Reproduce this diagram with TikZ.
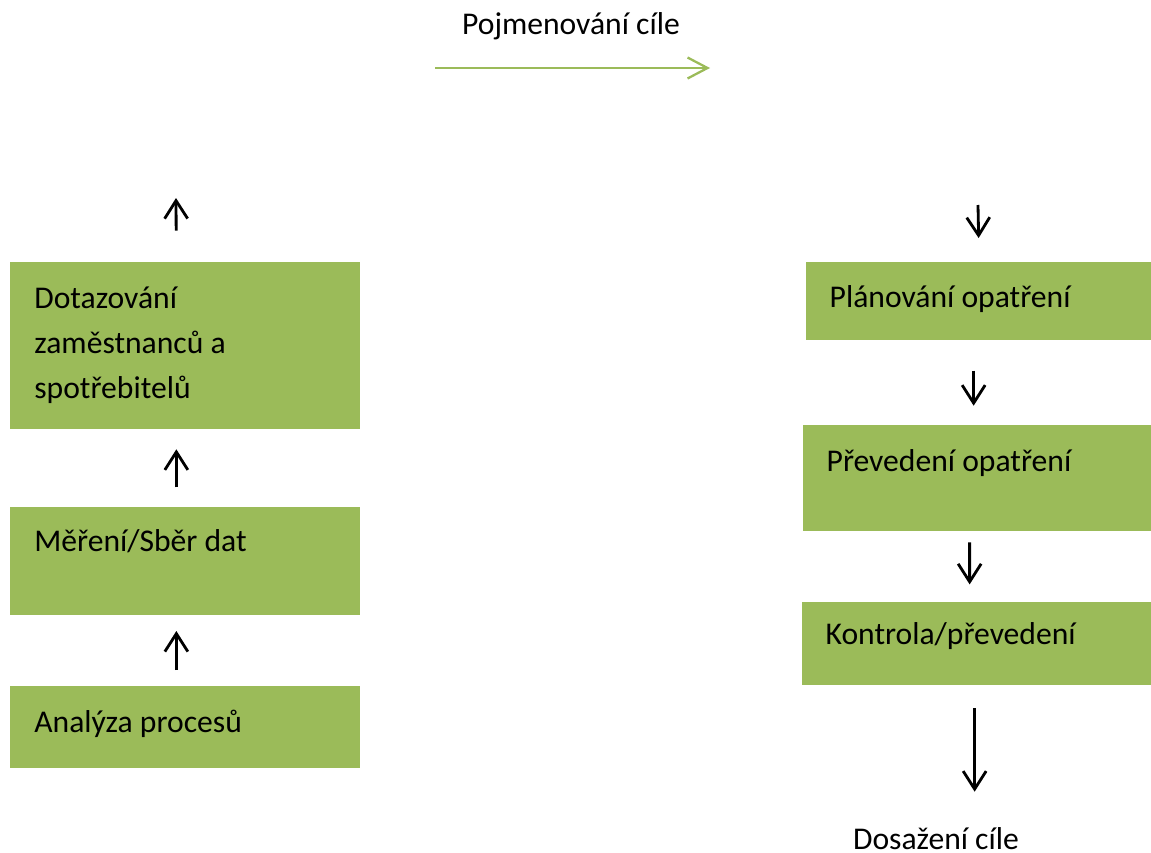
\documentclass[tikz,border=0pt]{standalone}
\usepackage{fontspec}
\setmainfont{Carlito}
\usepackage{tikz}
\usetikzlibrary{arrows.meta}
\definecolor{officegreen}{RGB}{155, 187, 89}
\usetikzlibrary{positioning}

\begin{document}
\begin{tikzpicture}
  [font=\fontsize{18}{25.6}\selectfont,
  stepbox/.style={rectangle, fill=officegreen, align=flush left, anchor=north west, inner xsep=.48cm, inner ysep=0, text height=.9cm},
  flow/.style={-{Straight Barb[length=3.6mm,width=4.6mm]}, line width=1.6pt, black},
  goal/.style={-{Straight Barb[length=4mm,width=4.2mm]}, line width=1.3pt, officegreen}]
  \useasboundingbox (0,0) rectangle (23.02,-17.06);

% Left column
\node (analyza) [stepbox, text width=6.04cm, text height=.92cm, text depth=.72cm] at (.2,-13.72) {Analýza procesů};
\node (mereni) [stepbox, above=1.42cm of analyza.north west, anchor=south west, text width=6.04cm, text depth=1.26cm] {Měření/Sběr dat};
\node (dotazovani) [stepbox, above=1.54cm of mereni.north west, anchor=south west, text width=6.04cm, text height=.94cm, text depth=2.4cm] {Dotazování\\zaměstnanců a\\spotřebitelů};
\coordinate (left-top) at (3.52,-3.96);
\draw[flow, shorten <=.32cm, shorten >=.32cm] ([xshift=-.18cm]analyza.north) -- ([xshift=-.18cm]mereni.south);
\draw[flow, shorten <=.38cm, shorten >=.4cm] ([xshift=-.18cm]mereni.north) -- ([xshift=-.18cm]dotazovani.south);
\draw[flow, shorten <=.62cm] ([xshift=-.18cm]dotazovani.north) -- (left-top);

% Goal
\node (pojmenovani) [anchor=base] at (11.42,-.68) {Pojmenování cíle};
\coordinate (goal-start) at (8.7,-1.36);
\coordinate (goal-end) at (14.2,-1.36);
\draw[goal] (goal-start) -- (goal-end);

% Right column
\node (planovani) [stepbox, anchor=north east, text width=5.94cm, text depth=.66cm] at (23.02,-5.24) {Plánování opatření};
\node (prevedeni) [stepbox, below=1.68cm of planovani.south east, anchor=north east, text width=6cm, text height=.92cm, text depth=1.2cm] {Převedení opatření};
\node (kontrola) [stepbox, below=1.4cm of prevedeni.south east, anchor=north east, text width=6.02cm, text height=.86cm, text depth=.8cm] {Kontrola/převedení};
\node (dosazeni) [anchor=base, inner sep=0] at (18.72,-16.98) {Dosažení cíle};
\coordinate (right-top) at (19.56,-4.1);
\draw[flow, shorten >=.48cm] (right-top) -- ([xshift=.02cm]planovani.north);
\draw[flow, shorten <=.6cm, shorten >=.38cm] ([xshift=-.09cm]planovani.south) -- ([xshift=-.06cm]prevedeni.north);
\draw[flow, shorten <=.22cm, shorten >=.34cm] ([xshift=-.14cm]prevedeni.south) -- ([xshift=-.13cm]kontrola.north);
\draw[flow, shorten <=.46cm, shorten >=.7cm] ([xshift=-.03cm]kontrola.south) -- ([xshift=-.03cm]kontrola.south |- dosazeni.north);
\end{tikzpicture}
\end{document}
